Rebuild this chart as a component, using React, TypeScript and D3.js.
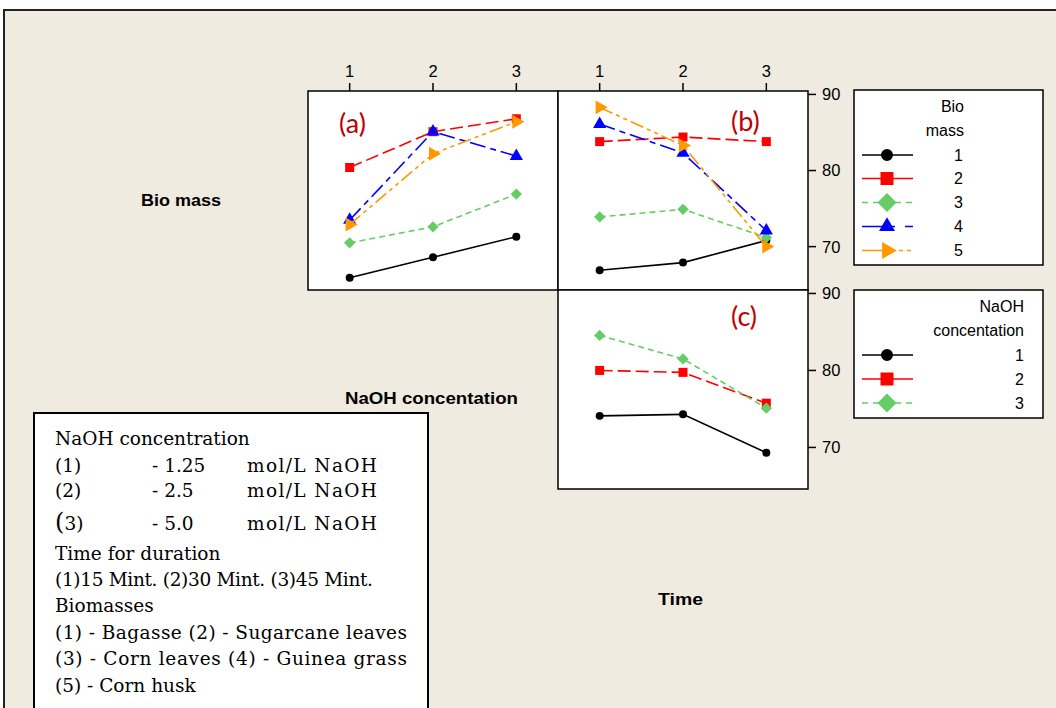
import React from 'react';
import * as d3 from 'd3';

// ---------- data ----------
const levels = [1, 2, 3];
const topTickLabels = ['1', '2', '3'];
const yTickValues = [70, 80, 90];
const biomassLegend = ['1', '2', '3', '4', '5'];
const naohLegend = ['1', '2', '3'];

// (a) Biomass x NaOH concentration
const biomassVsNaOH = [
  [65.9, 68.6, 71.3],
  [80.4, 85.1, 86.8],
  [70.5, 72.6, 76.9],
  [73.5, 85.1, 81.9],
  [72.9, 82.2, 86.4],
];
// (b) Biomass x Time
const biomassVsTime = [
  [66.9, 67.9, 70.8],
  [83.8, 84.4, 83.8],
  [73.9, 74.9, 71.2],
  [86.1, 82.3, 72.1],
  [88.3, 83.3, 70.0],
];
// (c) NaOH concentration x Time
const naohVsTime = [
  [74.1, 74.3, 69.3],
  [80.0, 79.75, 75.75],
  [84.55, 81.5, 75.1],
];

const infoLines = [
  'NaOH concentration',
  'Time for duration',
  '(1)15 Mint. (2)30 Mint. (3)45 Mint.',
  'Biomasses',
  '(1) - Bagasse (2) - Sugarcane leaves',
  '(3) - Corn leaves (4) - Guinea grass',
  '(5) - Corn husk',
];
const naohRows = [
  ['(1)', '- 1.25', 'mol/L NaOH'],
  ['(2)', '- 2.5', 'mol/L NaOH'],
  ['(3)', '- 5.0', 'mol/L NaOH'],
];

// ---------- styles ----------
const colors = ['#000000', '#FF0000', '#66CC66', '#0000FF', '#FF9900'];
const dashes = [undefined, '13 5', '6 4', '16 5 6 5', '14 4 4 4 4 4'];
const legendDashes = [undefined, undefined, '6 5', '33 10 8 10', '33 4 4 4 4 4'];
const shapes = ['circle', 'square', 'diamond', 'triUp', 'triRight'];
const panelSizes = [50, 81, 64, 76, 84];
const legendSizes = [113, 169, 180, 111, 125];

const sansFont = '"Liberation Sans", Arial, sans-serif';
const serifFont = '"DejaVu Serif", serif';
const labelRed = '#C00000';

function Marker({ shape, size, color, x, y }: any) {
  let sym: any = d3.symbolCircle;
  let rot = 0;
  if (shape === 'square') sym = d3.symbolSquare;
  if (shape === 'diamond') { sym = d3.symbolSquare; rot = 45; }
  if (shape === 'triUp') sym = d3.symbolTriangle;
  if (shape === 'triRight') { sym = d3.symbolTriangle; rot = 90; }
  const d = d3.symbol(sym, size)() as string;
  return <path d={d} fill={color} transform={`translate(${x},${y}) rotate(${rot})`} />;
}

function Panel({ x0, x1, yScale, series }: any) {
  const xs = d3.scaleLinear().domain([0.5, 3.5]).range([x0, x1]);
  const line = d3.line<number>().x((_, i) => xs(levels[i])).y((v) => yScale(v));
  return (
    <g>
      {series.map((vals: number[], i: number) => (
        <g key={i}>
          <path d={line(vals) as string} fill="none" stroke={colors[i]} strokeWidth={1.6}
            strokeDasharray={dashes[i]} />
          {vals.map((v, j) => (
            <Marker key={j} shape={shapes[i]} size={panelSizes[i]} color={colors[i]}
              x={xs(levels[j])} y={yScale(v)} />
          ))}
        </g>
      ))}
    </g>
  );
}

export default function App() {
  const W = 1056, H = 708;
  const xA = d3.scaleLinear().domain([0.5, 3.5]).range([308, 558]);
  const xB = d3.scaleLinear().domain([0.5, 3.5]).range([558, 808]);
  const yTop = d3.scaleLinear().domain([64.3, 90.45]).range([290, 91]);
  const yC = d3.scaleLinear().domain([64.6, 90.45]).range([489, 290]);

  const legend1Rows = [155, 178.5, 202.5, 226.5, 250.5];
  const legend2Rows = [355, 379, 403];

  return (
    <svg width={W} height={H} style={{ position: 'absolute', left: 0, top: 0, background: '#fff' }}>
      <rect x={4} y={10} width={1100} height={800} fill="#EFEBE0" stroke="#222" strokeWidth={2} />

      {/* panel boxes */}
      <rect x={308} y={91} width={250} height={199} fill="#fff" stroke="#000" strokeWidth={1.5} />
      <rect x={558} y={91} width={250} height={199} fill="#fff" stroke="#000" strokeWidth={1.5} />
      <rect x={558} y={290} width={250} height={199} fill="#fff" stroke="#000" strokeWidth={1.5} />

      {/* top ticks */}
      {[xA, xB].map((xs, p) => (
        <g key={p}>
          {levels.map((l, j) => (
            <g key={j}>
              <line x1={xs(l)} x2={xs(l)} y1={91} y2={83} stroke="#000" strokeWidth={1.5} />
              <text x={xs(l)} y={77} textAnchor="middle" fontFamily={sansFont} fontSize={16.5}>{topTickLabels[j]}</text>
            </g>
          ))}
        </g>
      ))}

      {/* right ticks */}
      {[yTop, yC].map((ys, p) => (
        <g key={p}>
          {yTickValues.map((t) => (
            <g key={t}>
              <line x1={808} x2={816} y1={ys(t)} y2={ys(t)} stroke="#000" strokeWidth={1.5} />
              <text x={822} y={ys(t)} dy="0.36em" fontFamily={sansFont} fontSize={16.5}>{t}</text>
            </g>
          ))}
        </g>
      ))}

      <Panel x0={308} x1={558} yScale={yTop} series={biomassVsNaOH} />
      <Panel x0={558} x1={808} yScale={yTop} series={biomassVsTime} />
      <Panel x0={558} x1={808} yScale={yC} series={naohVsTime} />

      <text x={339} y={133} fontFamily="Lato, sans-serif" fontSize={27} fill={labelRed}>(a)</text>
      <text x={731} y={131} fontFamily="Lato, sans-serif" fontSize={27} fill={labelRed}>(b)</text>
      <text x={731} y={326} fontFamily="Lato, sans-serif" fontSize={27} fill={labelRed}>(c)</text>

      {/* row/column labels */}
      <text x={141} y={206} fontFamily={sansFont} fontWeight="bold" fontSize={16} textLength={80} lengthAdjust="spacingAndGlyphs">Bio mass</text>
      <text x={345} y={404} fontFamily={sansFont} fontWeight="bold" fontSize={16} textLength={173} lengthAdjust="spacingAndGlyphs">NaOH concentation</text>
      <text x={658} y={605} fontFamily={sansFont} fontWeight="bold" fontSize={16} textLength={45} lengthAdjust="spacingAndGlyphs">Time</text>

      {/* legend 1 */}
      <rect x={854} y={90} width={189} height={175} fill="#fff" stroke="#000" strokeWidth={1.5} />
      <text x={964} y={112} textAnchor="end" fontFamily={sansFont} fontSize={16}>Bio</text>
      <text x={964} y={136} textAnchor="end" fontFamily={sansFont} fontSize={16}>mass</text>
      {biomassLegend.map((lab, i) => (
        <g key={i}>
          <line x1={862} x2={913} y1={legend1Rows[i]} y2={legend1Rows[i]} stroke={colors[i]} strokeWidth={1.6}
            strokeDasharray={legendDashes[i]} />
          <Marker shape={shapes[i]} size={legendSizes[i]} color={colors[i]} x={887} y={legend1Rows[i]} />
          <text x={963} y={legend1Rows[i]} dy="0.36em" textAnchor="end" fontFamily={sansFont} fontSize={16}>{lab}</text>
        </g>
      ))}

      {/* legend 2 */}
      <rect x={854} y={290} width={189} height={128} fill="#fff" stroke="#000" strokeWidth={1.5} />
      <text x={1024} y={312} textAnchor="end" fontFamily={sansFont} fontSize={16}>NaOH</text>
      <text x={1024} y={336} textAnchor="end" fontFamily={sansFont} fontSize={16}>concentation</text>
      {naohLegend.map((lab, i) => (
        <g key={i}>
          <line x1={862} x2={913} y1={legend2Rows[i]} y2={legend2Rows[i]} stroke={colors[i]} strokeWidth={1.6}
            strokeDasharray={legendDashes[i]} />
          <Marker shape={shapes[i]} size={legendSizes[i]} color={colors[i]} x={887} y={legend2Rows[i]} />
          <text x={1024} y={legend2Rows[i]} dy="0.36em" textAnchor="end" fontFamily={sansFont} fontSize={16}>{lab}</text>
        </g>
      ))}

      {/* info box */}
      <rect x={34} y={413} width={394} height={320} fill="#fff" stroke="#000" strokeWidth={2} />
      <g fontFamily={serifFont} fontSize={18.5} fill="#000">
        <text x={55} y={445}>{infoLines[0]}</text>
        {naohRows.map((r, i) => {
          const y = [472, 497, 530][i];
          return (
            <g key={i}>
              <text x={55} y={y}>
                {i === 2 ? (<><tspan fontSize={24}>(</tspan>{r[0].slice(1)}</>) : r[0]}
              </text>
              <text x={152} y={y}>{r[1]}</text>
              <text x={247} y={y} textLength={130} lengthAdjust="spacing">{r[2]}</text>
            </g>
          );
        })}
        <text x={55} y={560}>{infoLines[1]}</text>
        <text x={55} y={586} textLength={318} lengthAdjust="spacing">{infoLines[2]}</text>
        <text x={55} y={612}>{infoLines[3]}</text>
        <text x={55} y={639} textLength={352} lengthAdjust="spacing">{infoLines[4]}</text>
        <text x={55} y={665} textLength={352} lengthAdjust="spacing">{infoLines[5]}</text>
        <text x={55} y={692}>{infoLines[6]}</text>
      </g>
    </svg>
  );
}
